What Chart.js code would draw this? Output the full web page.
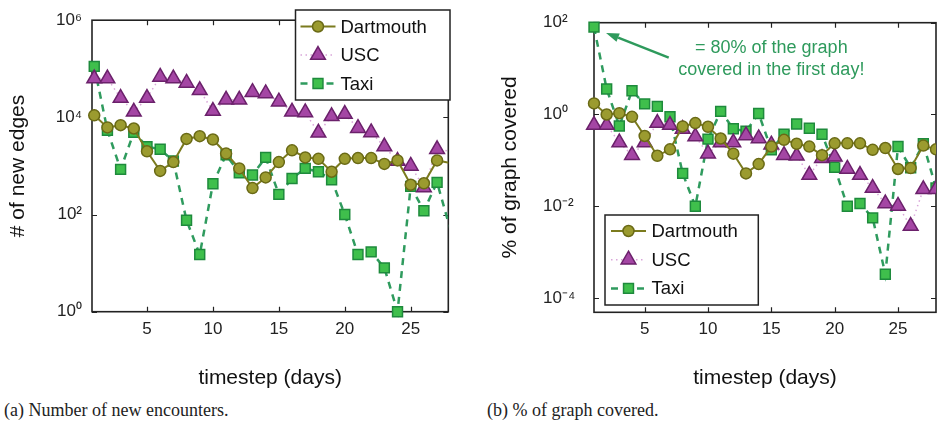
<!DOCTYPE html>
<html><head><meta charset="utf-8">
<script src="https://cdn.jsdelivr.net/npm/chart.js@4.4.1/dist/chart.umd.min.js"></script>
<style>
html,body{margin:0;padding:0;background:#fff;width:951px;height:427px;overflow:hidden;}
.wrap{position:absolute;top:0;}
#wa{left:0;width:475px;height:395px;}
#wb{left:480px;width:471px;height:395px;}
.cap{position:absolute;top:399px;font-family:"Liberation Serif","Times New Roman",serif;font-size:18px;color:#222;white-space:nowrap;line-height:22px;}
</style></head><body>
<div class="wrap" id="wa"><canvas id="ca" width="475" height="395"></canvas></div>
<div class="wrap" id="wb"><canvas id="cb" width="471" height="395"></canvas></div>
<div class="cap" style="left:4px">(a) Number of new encounters.</div>
<div class="cap" style="left:487px">(b) % of graph covered.</div>
<script>
// ---------------- data ----------------
const days = [1,2,3,4,5,6,7,8,9,10,11,12,13,14,15,16,17,18,19,20,21,22,23,24,25,26,27,28];
const xTicks = [5,10,15,20,25];
const seriesNames = ['Dartmouth','USC','Taxi'];
const edgeTicks = [1, 100, 10000, 1000000];
const coverTicks = [0.0001, 0.01, 1, 100];
const edgesDartmouth = [11000,6200,6900,5900,2000,790,1200,3600,4100,3500,1800,890,350,580,1200,2100,1500,1400,760,1400,1450,1450,1100,1300,410,440,1300,1150];
const edgesUSC = [63000,63000,25000,13000,25000,68000,63000,51000,36000,13500,23000,23000,33000,31000,21000,13000,12600,4800,10500,11700,6000,4900,2500,1260,1000,360,2200,2000];
const edgesTaxi = [112000,5400,850,4900,2500,2200,1260,76,15,430,1700,720,650,1500,260,550,890,760,520,100,15,17,8,1,380,120,460,50];
const coverDartmouth = [1.74,1.0,1.07,0.89,0.34,0.126,0.174,0.55,0.65,0.54,0.30,0.14,0.052,0.083,0.2,0.28,0.23,0.2,0.13,0.235,0.235,0.235,0.17,0.186,0.065,0.068,0.21,0.174];
const coverUSC = [0.59,0.59,0.245,0.13,0.245,0.65,0.59,0.48,0.33,0.14,0.245,0.245,0.35,0.30,0.22,0.13,0.126,0.048,0.112,0.12,0.065,0.048,0.025,0.0115,0.0102,0.0037,0.0234,0.0234];
const coverTaxi = [80,3.6,0.56,3.3,1.7,1.5,0.89,0.052,0.01,0.29,1.17,0.49,0.43,1.05,0.17,0.37,0.62,0.5,0.37,0.071,0.01,0.0115,0.0056,0.00033,0.2,0.069,0.23,0.025];
const noteLines = ['= 80% of the graph', 'covered in the first day!'];

// ---------------- styles ----------------
const FONT = '"Liberation Sans", Arial, Helvetica, sans-serif';
const styles = {
  Dartmouth: {borderColor:'#7b7b1e', borderWidth:2, borderDash:[], pointStyle:'circle', radius:5.5,
    pointBackgroundColor:'#9b9b2f', pointBorderColor:'#6a6a16', pointBorderWidth:1.5},
  USC: {borderColor:'#d9a6d9', borderWidth:1.5, borderDash:[1.5,3.5], pointStyle:'triangle', radius:8.5,
    pointBackgroundColor:'#a446a4', pointBorderColor:'#6b216b', pointBorderWidth:1.5},
  Taxi: {borderColor:'#2f9b5e', borderWidth:2.5, borderDash:[7,6], pointStyle:'rect', radius:7,
    pointBackgroundColor:'#3fbf4c', pointBorderColor:'#1e8a3c', pointBorderWidth:1.5}
};

const sup = {'0':'\u2070','1':'\u00b9','2':'\u00b2','3':'\u00b3','4':'\u2074','5':'\u2075','6':'\u2076','7':'\u2077','8':'\u2078','9':'\u2079','-':'\u207b'};
function powLabel(v){ const e = Math.round(Math.log10(v)); return '10' + String(e).split('').map(c=>sup[c]).join(''); }

function makeDataset(name, values, xMax){
  const s = styles[name];
  return {
    label: name,
    data: days.map((d,i)=>({x:d, y:values[i]})),
    borderColor: s.borderColor, borderWidth: s.borderWidth, borderDash: s.borderDash,
    pointStyle: s.pointStyle,
    pointRadius: ctx => (ctx.raw && ctx.raw.x > xMax) ? 0 : s.radius,
    pointBackgroundColor: s.pointBackgroundColor, pointBorderColor: s.pointBorderColor,
    pointBorderWidth: s.pointBorderWidth, pointHoverRadius: s.radius,
    tension: 0, fill: false,
    clip: {left: 12, top: 12, right: 0, bottom: 12}
  };
}

// ---------------- plugins ----------------
const framePlugin = {
  id: 'frame',
  beforeDatasetsDraw(chart, args, o){
    const {ctx, chartArea:a, scales:{x, y}} = chart;
    ctx.save();
    ctx.strokeStyle = o.color; ctx.lineWidth = o.width;
    ctx.beginPath();
    x.ticks.forEach(t => { const p = Math.round(x.getPixelForValue(t.value))+0.5;
      ctx.moveTo(p, a.bottom); ctx.lineTo(p, a.bottom - o.len);
      ctx.moveTo(p, a.top); ctx.lineTo(p, a.top + o.len); });
    y.ticks.forEach(t => { const p = Math.round(y.getPixelForValue(t.value))+0.5;
      ctx.moveTo(a.left, p); ctx.lineTo(a.left + o.len, p);
      ctx.moveTo(a.right, p); ctx.lineTo(a.right - o.len, p); });
    ctx.stroke();
    ctx.lineWidth = o.boxWidth;
    ctx.strokeRect(a.left, a.top, a.right - a.left, a.bottom - a.top);
    ctx.restore();
  }
};

const boxLegendPlugin = {
  id: 'boxLegend',
  afterDatasetsDraw(chart, args, o){
    const ctx = chart.ctx;
    ctx.save();
    ctx.fillStyle = '#fff';
    ctx.fillRect(o.x, o.y, o.w, o.h);
    ctx.strokeStyle = '#222'; ctx.lineWidth = 1.5;
    ctx.strokeRect(o.x, o.y, o.w, o.h);
    chart.data.datasets.forEach((ds, i) => {
      const s = styles[ds.label];
      const cy = o.y + o.row0 + i * o.rowGap;
      ctx.strokeStyle = s.borderColor; ctx.lineWidth = s.borderWidth; ctx.setLineDash(s.borderDash);
      ctx.beginPath(); ctx.moveTo(o.x + o.line0, cy); ctx.lineTo(o.x + o.line1, cy); ctx.stroke();
      ctx.setLineDash([]);
      ctx.fillStyle = s.pointBackgroundColor; ctx.strokeStyle = s.pointBorderColor; ctx.lineWidth = s.pointBorderWidth;
      Chart.helpers.drawPoint(ctx, {pointStyle: s.pointStyle, radius: s.radius, borderWidth: s.pointBorderWidth, rotation: 0},
        o.x + (o.line0 + o.line1) / 2, cy);
      ctx.fillStyle = '#111'; ctx.font = o.fontSize + 'px ' + FONT;
      ctx.textAlign = 'left'; ctx.textBaseline = 'middle';
      ctx.fillText(ds.label, o.x + o.textX, cy + 1);
    });
    ctx.restore();
  }
};

const notePlugin = {
  id: 'note',
  afterDatasetsDraw(chart, args, o){
    if (!o || !o.lines) return;
    const {ctx, scales:{x, y}} = chart;
    ctx.save();
    ctx.fillStyle = o.color; ctx.strokeStyle = o.color;
    ctx.font = o.fontSize + 'px ' + FONT; ctx.textAlign = 'center'; ctx.textBaseline = 'middle';
    const tx = x.getPixelForValue(o.at[0]), ty = y.getPixelForValue(o.at[1]);
    o.lines.forEach((l, i) => ctx.fillText(l, tx, ty + i * o.gap));
    const x0 = x.getPixelForValue(o.from[0]), y0 = y.getPixelForValue(o.from[1]);
    const x1 = x.getPixelForValue(o.to[0]), y1 = y.getPixelForValue(o.to[1]);
    const ang = Math.atan2(y1 - y0, x1 - x0);
    const hl = 13, hw = 4.5;
    const bx = x1 - Math.cos(ang) * hl, by = y1 - Math.sin(ang) * hl;
    ctx.lineWidth = 2.5;
    ctx.beginPath(); ctx.moveTo(x0, y0); ctx.lineTo(bx, by); ctx.stroke();
    ctx.beginPath();
    ctx.moveTo(x1, y1);
    ctx.lineTo(bx - Math.sin(ang) * hw, by + Math.cos(ang) * hw);
    ctx.lineTo(bx + Math.sin(ang) * hw, by - Math.cos(ang) * hw);
    ctx.closePath(); ctx.fill();
    ctx.restore();
  }
};

Chart.defaults.font.family = FONT;
Chart.defaults.color = '#222';

function makeChart(canvasId, cfg){
  const xMax = cfg.xMax;
  return new Chart(document.getElementById(canvasId), {
    type: 'line',
    data: { datasets: [
      makeDataset('Dartmouth', cfg.values[0], xMax),
      makeDataset('USC', cfg.values[1], xMax),
      makeDataset('Taxi', cfg.values[2], xMax)
    ]},
    plugins: [framePlugin, boxLegendPlugin, notePlugin],
    options: {
      responsive: false, animation: false, devicePixelRatio: 1,
      layout: { padding: cfg.padding },
      plugins: {
        legend: {display: false}, tooltip: {enabled: false},
        frame: {color: '#222', width: 1.2, boxWidth: 1.6, len: 5},
        boxLegend: cfg.legend,
        note: cfg.note || {}
      },
      scales: {
        x: {
          type: 'linear', min: cfg.xMin, max: xMax,
          grid: {display: false, drawTicks: false}, border: {display: false},
          afterBuildTicks: s => { s.ticks = xTicks.map(v => ({value: v})); },
          afterFit: s => { s.height = cfg.xHeight; },
          ticks: {padding: 7, font: {size: 17}, color: '#222', maxRotation: 0, autoSkip: false,
            callback: v => String(v)},
          title: {display: true, text: 'timestep (days)', color: '#111', font: {size: 21},
            padding: {top: 0, bottom: 4}}
        },
        y: {
          type: 'logarithmic', min: cfg.yMin, max: cfg.yMax,
          grid: {display: false, drawTicks: false}, border: {display: false},
          afterBuildTicks: s => { s.ticks = cfg.yTicks.map(v => ({value: v})); },
          afterFit: s => { s.width = cfg.yWidth; },
          ticks: {padding: cfg.yTickPad, crossAlign: cfg.crossAlign, font: {size: 17}, color: '#222',
            autoSkip: false, callback: v => powLabel(v)},
          title: {display: true, text: cfg.yTitle, color: '#111', font: {size: 21},
            padding: {top: cfg.yTitlePad, bottom: 0}}
        }
      }
    }
  });
}

makeChart('ca', {
  values: [edgesDartmouth, edgesUSC, edgesTaxi],
  xMin: 0.83, xMax: 27.85,
  yMin: 1, yMax: 1000000, yTicks: edgeTicks,
  padding: {left: 5.4, top: 17, right: 26.7, bottom: 0},
  xHeight: 83.3, yWidth: 86.6, yTickPad: 10, crossAlign: 'near', yTitlePad: 0,
  yTitle: '# of new edges',
  legend: {x: 295.5, y: 10, w: 154.5, h: 90, row0: 16.5, rowGap: 28.5, line0: 5, line1: 40, textX: 45, fontSize: 18.5}
});

makeChart('cb', {
  values: [coverDartmouth, coverUSC, coverTaxi],
  xMin: 1, xMax: 28,
  yMin: 0.000049, yMax: 100, yTicks: coverTicks,
  padding: {left: 63, top: 22.7, right: 15, bottom: 0},
  xHeight: 82.7, yWidth: 51, yTickPad: 8, crossAlign: 'far', yTitlePad: -45.6,
  yTitle: '% of graph covered',
  legend: {x: 125, y: 215, w: 153.3, h: 90, row0: 16, rowGap: 28.7, line0: 6, line1: 41, textX: 46.5, fontSize: 18.5},
  note: {lines: noteLines, at: [15, 28], gap: 22, color: '#2e9a5c', fontSize: 18,
    from: [6.9, 17.4], to: [1.95, 60]}
});
</script>
</body></html>
